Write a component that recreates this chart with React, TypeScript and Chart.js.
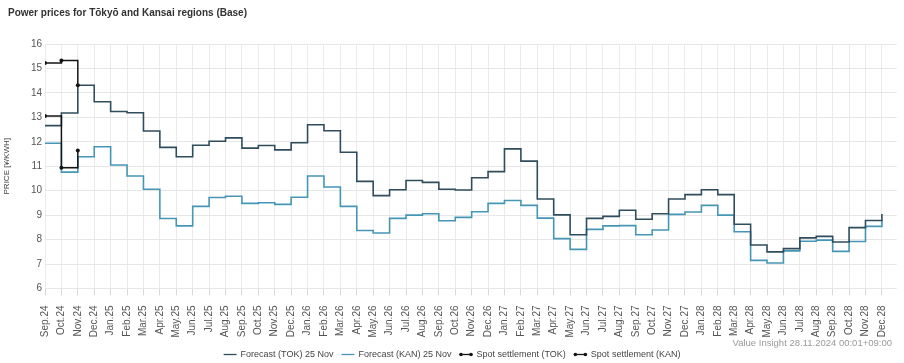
import React, { useEffect, useRef } from 'react';
import { Chart, registerables } from 'chart.js';

Chart.register(...registerables);

const categories = [
  'Sep.24', 'Oct.24', 'Nov.24', 'Dec.24',
  'Jan.25', 'Feb.25', 'Mar.25', 'Apr.25', 'May.25', 'Jun.25', 'Jul.25', 'Aug.25', 'Sep.25', 'Oct.25', 'Nov.25', 'Dec.25',
  'Jan.26', 'Feb.26', 'Mar.26', 'Apr.26', 'May.26', 'Jun.26', 'Jul.26', 'Aug.26', 'Sep.26', 'Oct.26', 'Nov.26', 'Dec.26',
  'Jan.27', 'Feb.27', 'Mar.27', 'Apr.27', 'May.27', 'Jun.27', 'Jul.27', 'Aug.27', 'Sep.27', 'Oct.27', 'Nov.27', 'Dec.27',
  'Jan.28', 'Feb.28', 'Mar.28', 'Apr.28', 'May.28', 'Jun.28', 'Jul.28', 'Aug.28', 'Sep.28', 'Oct.28', 'Nov.28', 'Dec.28',
];

const tokForecast = [
  12.66, 13.18, 14.31, 13.64,
  13.24, 13.19, 12.44, 11.77, 11.39, 11.86, 12.02, 12.16, 11.74, 11.85, 11.67, 11.96,
  12.7, 12.45, 11.57, 10.38, 9.8, 10.04, 10.42, 10.34, 10.06, 10.03, 10.53, 10.78,
  11.71, 11.21, 9.66, 9.01, 8.2, 8.87, 8.95, 9.2, 8.83, 9.06, 9.66, 9.84,
  10.04, 9.84, 8.63, 7.78, 7.5, 7.63, 8.07, 8.13, 7.9, 8.49, 8.78, 9.05,
];

const kanForecast = [
  11.94, 10.76, 11.39, 11.8,
  11.05, 10.6, 10.06, 8.86, 8.56, 9.36, 9.72, 9.77, 9.48, 9.51, 9.44, 9.73,
  10.6, 10.15, 9.36, 8.37, 8.27, 8.87, 9.0, 9.06, 8.77, 8.91, 9.14, 9.48,
  9.6, 9.4, 8.88, 8.04, 7.6, 8.42, 8.56, 8.57, 8.2, 8.39, 9.03, 9.13,
  9.4, 9.0, 8.32, 7.15, 7.04, 7.54, 7.93, 7.98, 7.52, 7.92, 8.54, 8.8,
];

const tokSpot = [15.22, 15.33, 14.31];
const kanSpot = [13.06, 10.94, 11.64];

const TITLE = 'Power prices for Tōkyō and Kansai regions (Base)';
const Y_TITLE = 'PRICE [¥/KWH]';
const WATERMARK = 'Value Insight 28.11.2024 00:01+09:00';

const TOK_COLOR = '#2f4d5c';
const KAN_COLOR = '#4596b5';
const SPOT_COLOR = '#141414';

const legendItems = [
  { label: 'Forecast (TOK) 25 Nov', color: TOK_COLOR, dots: false },
  { label: 'Forecast (KAN) 25 Nov', color: KAN_COLOR, dots: false },
  { label: 'Spot settlement (TOK)', color: SPOT_COLOR, dots: true },
  { label: 'Spot settlement (KAN)', color: SPOT_COLOR, dots: true },
];

const FONT = '"Liberation Sans", Arial, Helvetica, sans-serif';

const toPoints = (arr: number[]) => arr.map((y, x) => ({ x, y }));

const overlayPlugin = {
  id: 'overlay',
  afterDraw(chart: any) {
    const ctx = chart.ctx as CanvasRenderingContext2D;
    ctx.save();
    // title
    ctx.font = `bold 10px ${FONT}`;
    ctx.fillStyle = '#333333';
    ctx.textAlign = 'left';
    ctx.textBaseline = 'alphabetic';
    ctx.fillText(TITLE, 8, 16);

    // watermark
    ctx.font = `9.5px ${FONT}`;
    ctx.fillStyle = '#9a9a9a';
    ctx.textAlign = 'right';
    ctx.fillText(WATERMARK, 892, 346);

    // legend
    ctx.font = `9px ${FONT}`;
    const sym = 13;
    const gap = 4;
    const sep = 8;
    const widths = legendItems.map((it) => sym + gap + ctx.measureText(it.label).width);
    const total = widths.reduce((a, b) => a + b, 0) + sep * (legendItems.length - 1);
    let x = chart.width / 2 - total / 2;
    const y = 354.5;
    legendItems.forEach((it, i) => {
      ctx.strokeStyle = it.color;
      ctx.lineWidth = 1.3;
      ctx.beginPath();
      ctx.moveTo(x, y);
      ctx.lineTo(x + sym, y);
      ctx.stroke();
      if (it.dots) {
        ctx.fillStyle = it.color;
        [x + 1.5, x + sym - 1.5].forEach((cx) => {
          ctx.beginPath();
          ctx.arc(cx, y, 1.8, 0, Math.PI * 2);
          ctx.fill();
        });
      }
      ctx.fillStyle = '#444444';
      ctx.textAlign = 'left';
      ctx.textBaseline = 'middle';
      ctx.fillText(it.label, x + sym + gap, y + 0.5);
      x += widths[i] + sep;
    });
    ctx.restore();
  },
};

export default function App() {
  const canvasRef = useRef<HTMLCanvasElement | null>(null);

  useEffect(() => {
    document.body.style.margin = '0';
    const canvas = canvasRef.current;
    if (!canvas) return;

    const chart = new Chart(canvas, {
      type: 'line',
      data: {
        datasets: [
          {
            label: 'Spot settlement (TOK)',
            data: toPoints(tokSpot),
            borderColor: SPOT_COLOR,
            backgroundColor: SPOT_COLOR,
            borderWidth: 1.5,
            pointRadius: 2,
            pointBorderWidth: 0,
            stepped: true,
            order: 0,
          },
          {
            label: 'Spot settlement (KAN)',
            data: toPoints(kanSpot),
            borderColor: SPOT_COLOR,
            backgroundColor: SPOT_COLOR,
            borderWidth: 1.5,
            pointRadius: 2,
            pointBorderWidth: 0,
            stepped: true,
            order: 1,
          },
          {
            label: 'Forecast (TOK) 25 Nov',
            data: toPoints(tokForecast),
            borderColor: TOK_COLOR,
            backgroundColor: TOK_COLOR,
            borderWidth: 1.6,
            pointRadius: 0,
            stepped: true,
            order: 2,
          },
          {
            label: 'Forecast (KAN) 25 Nov',
            data: toPoints(kanForecast),
            borderColor: KAN_COLOR,
            backgroundColor: KAN_COLOR,
            borderWidth: 1.6,
            pointRadius: 0,
            stepped: true,
            order: 3,
          },
        ],
      },
      options: {
        responsive: false,
        animation: false,
        devicePixelRatio: 1,
        layout: { padding: { top: 44, right: 6, bottom: 0, left: 0 } },
        plugins: {
          legend: { display: false },
          title: { display: false },
          tooltip: { enabled: false },
        },
        scales: {
          x: {
            type: 'linear',
            min: 0,
            max: 51.9,
            grid: { color: '#ebebeb', tickLength: 7, tickColor: '#d9d9d9', drawTicks: true },
            border: { display: false },
            ticks: {
              stepSize: 1,
              autoSkip: false,
              includeBounds: false,
              maxRotation: 90,
              minRotation: 90,
              padding: 10,
              color: '#555555',
              font: { size: 10, family: FONT },
              callback: (v: any) => categories[Number(v)] ?? '',
            },
            afterFit: (s: any) => {
              s.height = 74.5;
            },
          },
          y: {
            min: 6,
            max: 16,
            grid: { color: '#e6e6e6', drawTicks: false },
            border: { display: false },
            ticks: {
              stepSize: 1,
              padding: 3,
              color: '#555555',
              font: { size: 10, family: FONT },
            },
            title: {
              display: true,
              text: Y_TITLE,
              color: '#444444',
              font: { size: 8, family: FONT },
              padding: { top: 2, bottom: 0 },
            },
            afterFit: (s: any) => {
              s.width = 45;
            },
          },
        },
      },
      plugins: [overlayPlugin],
    } as any);

    return () => chart.destroy();
  }, []);

  return (
    <div style={{ width: 904, height: 363, background: '#ffffff' }}>
      <canvas ref={canvasRef} width={904} height={363} style={{ display: 'block' }} />
    </div>
  );
}
